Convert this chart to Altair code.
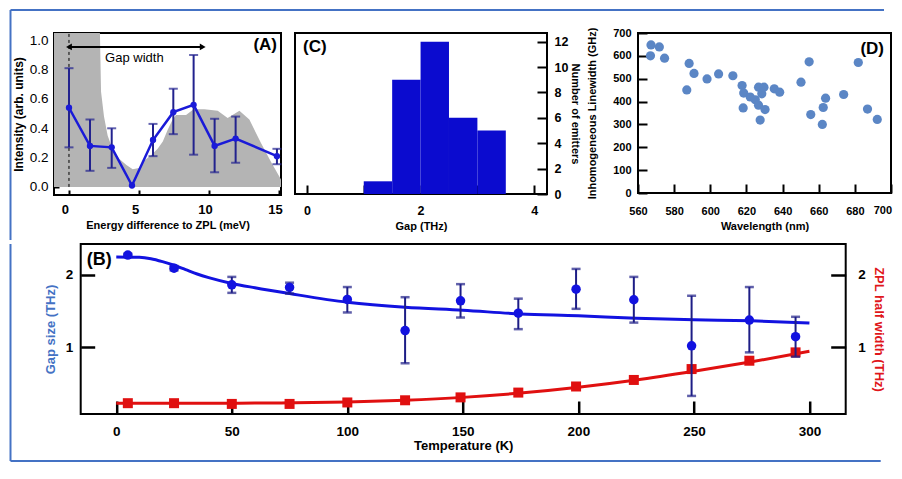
import altair as alt
import pandas as pd

FONT = "Liberation Sans"

# ---------------- Panel A data ----------------
a_energy = [0.0, 1.5, 3.05, 4.5, 6.0, 7.45, 8.9, 10.4, 11.9, 14.85]
a_int = [0.54, 0.28, 0.27, 0.01, 0.32, 0.51, 0.56, 0.28, 0.33, 0.21]
a_lo = [0.27, 0.11, 0.13, None, 0.21, 0.36, 0.22, 0.10, 0.165, 0.155]
a_hi = [0.81, 0.46, 0.40, None, 0.43, 0.67, 0.90, 0.465, 0.48, 0.26]
gray_e = [-1.07, 2.21, 2.29, 2.5, 2.76, 3.1, 3.6, 4.1, 4.55, 5.0, 5.38, 5.9, 6.33,
          6.7, 7.05, 7.35, 7.64, 8.36, 8.9, 9.67, 10.62, 11.33, 12.17, 12.88,
          13.71, 14.43, 15.14]
gray_i = [1.05, 1.05, 0.65, 0.48, 0.35, 0.26, 0.19, 0.15, 0.12, 0.13, 0.18, 0.22,
          0.26, 0.31, 0.39, 0.45, 0.49, 0.49, 0.53, 0.53, 0.52, 0.47, 0.52, 0.46,
          0.30, 0.17, 0.05]
gap_arrow = [0.0, 9.55]
gap_arrow_y = 0.955
zpl_line_y = [0.0, 1.05]
gap_text_pos = [4.67, 0.88]

# ---------------- Panel C data ----------------
c_lo = [1.0, 1.5, 2.0, 2.5, 3.0]
c_hi = [1.5, 2.0, 2.5, 3.0, 3.5]
c_count = [1, 9, 12, 6, 5]

# ---------------- Panel D data ----------------
d_wl = [567.2, 571.8, 566.9, 574.7, 588.3, 591.0, 587.0, 598.2, 604.6, 612.5, 617.6,
        618.5, 618.2, 622.1, 624.9, 626.7, 626.7, 628.5, 629.7, 627.6, 630.3, 635.4,
        638.4, 650.2, 654.7, 655.6, 662.5, 662.0, 663.8, 673.8, 681.9, 687.0, 692.4]
d_lw = [648, 639, 600, 590, 567, 523, 451, 499, 521, 513, 470, 437, 372, 420, 408,
        463, 384, 434, 463, 319, 365, 456, 441, 485, 574, 343, 374, 300, 415, 431,
        571, 367, 322]
d_ticks = list(range(560, 701, 20))

# ---------------- Panel B data ----------------
b_T = [5, 25, 50, 75, 100, 125, 149, 174, 199, 224, 249, 274, 294]
b_gap = [2.27, 2.09, 1.86, 1.825, 1.66, 1.23, 1.64, 1.47, 1.80, 1.655, 1.02, 1.375, 1.146]
b_gap_lo = [2.25, 2.06, 1.75, 1.74, 1.48, 0.78, 1.41, 1.25, 1.53, 1.34, 0.33, 0.93, 0.87]
b_gap_hi = [2.29, 2.12, 1.97, 1.89, 1.83, 1.69, 1.87, 1.67, 2.08, 1.97, 1.71, 1.83, 1.42]
b_zpl = [0.23, 0.23, 0.22, 0.22, 0.24, 0.27, 0.31, 0.376, 0.46, 0.55, 0.70, 0.815, 0.93]
fit_T = [0, 10, 15, 20, 25, 30, 35, 40, 50, 60, 75, 100, 125, 150, 175, 200, 225, 250, 275, 300]
fit_gap = [2.245, 2.24, 2.22, 2.18, 2.13, 2.07, 2.01, 1.96, 1.88, 1.82, 1.74, 1.62, 1.55,
           1.51, 1.46, 1.435, 1.40, 1.38, 1.365, 1.335]
fit_zpl = [0.23, 0.23, 0.23, 0.23, 0.23, 0.23, 0.23, 0.23, 0.23, 0.232, 0.235, 0.245, 0.27,
           0.31, 0.37, 0.45, 0.55, 0.67, 0.80, 0.945]


def axis(**kw):
    base = dict(grid=False, domain=False, labelFont=FONT, titleFont=FONT,
                labelColor="black", titleColor="black", tickColor="black",
                labelFlush=False, labelOverlap=False, labelBound=False,
                titleFontWeight="bold")
    base.update(kw)
    return alt.Axis(**base)


one = pd.DataFrame({"k": [0]})
BORDER = "#4472c4"
BW = 2  # border stroke width

# ================= Panel A =================
xs_a = alt.Scale(domain=[-1.07, 15.14], nice=False, zero=False)
ys_a = alt.Scale(domain=[-0.055, 1.05], nice=False, zero=False)
ax_xa = axis(values=[0, 5, 10, 15], format="d", tickSize=5, offset=-5, tickWidth=2,
             labelFontSize=13, labelFontWeight="bold", labelPadding=8, labelOffset=-4,
             title="Energy difference to ZPL (meV)", titleFontSize=11, titlePadding=3)
ax_ya = axis(values=[0, 0.2, 0.4, 0.6, 0.8, 1.0], format=".1f", tickSize=5, offset=-5,
             tickWidth=2, labelFontSize=13.5, labelFontWeight="normal", labelPadding=6,
             title="Intensity (arb. units)", titleFontSize=12, titlePadding=4)

XA = lambda f: alt.X(f, scale=xs_a, axis=ax_xa)
YA = lambda f: alt.Y(f, scale=ys_a, axis=ax_ya)

gray_df = pd.DataFrame({"e": gray_e, "i": gray_i, "z": [0.0] * len(gray_e)})
a_df = pd.DataFrame({"e": a_energy, "i": a_int, "lo": a_lo, "hi": a_hi})
a_err = a_df.dropna()
dash_df = pd.DataFrame({"e": [gap_arrow[0]], "y1": [zpl_line_y[0]], "y2": [zpl_line_y[1]]})
arrow_df = pd.DataFrame({"e": gap_arrow, "i": [gap_arrow_y] * 2,
                         "s": ["triangle-left", "triangle-right"]})
arrow_line_df = pd.DataFrame({"e1": [gap_arrow[0]], "e2": [gap_arrow[1]], "i": [gap_arrow_y]})
text_df = pd.DataFrame({"e": [gap_text_pos[0]], "i": [gap_text_pos[1]], "t": ["Gap width"]})

area_a = alt.Chart(gray_df).mark_area(color="#b4b4b4", clip=True).encode(
    x=XA("e:Q"), y=YA("i:Q"), y2="z:Q")
dash_a = alt.Chart(dash_df).mark_rule(color="black", strokeWidth=1, strokeDash=[3, 3]).encode(
    x=XA("e:Q"), y=YA("y1:Q"), y2="y2:Q")
arrow_line = alt.Chart(arrow_line_df).mark_rule(color="black", strokeWidth=2).encode(
    x=XA("e1:Q"), x2="e2:Q", y=YA("i:Q"))
arrow_heads = alt.Chart(arrow_df).mark_point(filled=True, color="black", size=45, opacity=1).encode(
    x=XA("e:Q"), y=YA("i:Q"), shape=alt.Shape("s:N", scale=None))
gap_text = alt.Chart(text_df).mark_text(font=FONT, fontSize=13, color="black").encode(
    x=XA("e:Q"), y=YA("i:Q"), text="t:N")
err_a = alt.Chart(a_err).mark_rule(color="#22228e", strokeWidth=2).encode(
    x=XA("e:Q"), y=YA("lo:Q"), y2="hi:Q")
err_a_lo = alt.Chart(a_err).mark_tick(color="#22228e", orient="horizontal", size=9, thickness=2).encode(
    x=XA("e:Q"), y=YA("lo:Q"))
err_a_hi = alt.Chart(a_err).mark_tick(color="#22228e", orient="horizontal", size=9, thickness=2).encode(
    x=XA("e:Q"), y=YA("hi:Q"))
line_a = alt.Chart(a_df).mark_line(color="#1a1ad8", strokeWidth=2.5).encode(
    x=XA("e:Q"), y=YA("i:Q"))
pts_a = alt.Chart(a_df).mark_circle(color="#1a1ad8", size=40, opacity=1).encode(
    x=XA("e:Q"), y=YA("i:Q"))
lab_a = alt.Chart(one).mark_text(text="(A)", font=FONT, fontSize=17, fontWeight="bold",
                                 align="right", baseline="middle", color="black").encode(
    x=alt.value(223), y=alt.value(12))

# figure frame (upper part), in pixels relative to panel A
border_left_top = alt.Chart(one).mark_rule(color=BORDER, strokeWidth=BW).encode(
    x=alt.value(-43.5), y=alt.value(-23), y2=alt.value(207))
border_top = alt.Chart(one).mark_rule(color=BORDER, strokeWidth=BW).encode(
    x=alt.value(-43.5), x2=alt.value(830), y=alt.value(-23))

panel_a = alt.layer(area_a, dash_a, arrow_line, arrow_heads, gap_text, err_a, err_a_lo,
                    err_a_hi, line_a, pts_a, lab_a, border_left_top,
                    border_top).properties(width=227, height=162)

# ================= Panel C =================
c_df = pd.DataFrame({"lo": c_lo, "hi": c_hi, "n": c_count, "z": [0] * len(c_lo)})
ax_xc = axis(values=[0, 1, 2, 3, 4], format="d", tickSize=9, offset=-9, tickWidth=2,
             labelExpr="datum.value % 2 === 0 ? datum.label : ''",
             labelFontSize=12.5, labelFontWeight="bold", labelPadding=10,
             title="Gap (THz)", titleFontSize=11, titlePadding=4)
ax_yc = axis(orient="right", values=[0, 2, 4, 6, 8, 10, 12], format="d", tickSize=10,
             offset=-10, tickWidth=2, labelFontSize=12.5, labelFontWeight="bold",
             labelPadding=7, title="Number of emitters", titleFontSize=11, titlePadding=2)
bars_c = alt.Chart(c_df).mark_rect(color="#0b0bcf").encode(
    x=alt.X("lo:Q", scale=alt.Scale(domain=[-0.21, 4.225], nice=False, zero=False), axis=ax_xc),
    x2="hi:Q",
    y=alt.Y("n:Q", scale=alt.Scale(domain=[0, 12.68], nice=False), axis=ax_yc),
    y2="z:Q")
lab_c = alt.Chart(one).mark_text(text="(C)", font=FONT, fontSize=17, fontWeight="bold",
                                 align="left", baseline="middle", color="black").encode(
    x=alt.value(8), y=alt.value(14))
panel_c = alt.layer(bars_c, lab_c).properties(width=252, height=161)

# ================= Panel D =================
D_W, D_H = 253, 160
d_df = pd.DataFrame({"wl": d_wl, "lw": d_lw})
ax_xd = axis(values=d_ticks, format="d", tickSize=9, offset=-9, tickWidth=2,
             labelExpr="datum.value >= 700 ? '' : datum.label",
             labelFontSize=11, labelFontWeight="bold", labelPadding=12,
             title="Wavelength (nm)", titleFontSize=11, titlePadding=4)
ax_yd = axis(values=list(range(0, 701, 100)), format="d", tickSize=9, offset=-9, tickWidth=2,
             labelFontSize=11, labelFontWeight="bold", labelPadding=7,
             title="Inhomogeneous Linewidth (GHz)", titleFontSize=11, titlePadding=15)
pts_d = alt.Chart(d_df).mark_circle(color="#5b86c5", size=85, opacity=1).encode(
    x=alt.X("wl:Q", scale=alt.Scale(domain=[560, 700], nice=False, zero=False), axis=ax_xd),
    y=alt.Y("lw:Q", scale=alt.Scale(domain=[0, 700], nice=False), axis=ax_yd))
# last tick label kept inside the page edge
last_lab_d = alt.Chart(one).mark_text(text=str(d_ticks[-1]), font=FONT, fontSize=11,
                                      fontWeight="bold", align="right", baseline="top",
                                      color="black").encode(
    x=alt.value(D_W + 1), y=alt.value(D_H + 12))
lab_d = alt.Chart(one).mark_text(text="(D)", font=FONT, fontSize=17, fontWeight="bold",
                                 align="right", baseline="middle", color="black").encode(
    x=alt.value(246), y=alt.value(16))
panel_d = alt.layer(pts_d, last_lab_d, lab_d).properties(width=D_W, height=D_H)

# ================= Panel B =================
xs_b = alt.Scale(domain=[-15.4, 315.7], nice=False, zero=False)
ys_b = alt.Scale(domain=[0.081, 2.423], nice=False, zero=False)
ax_xb = axis(values=[0, 50, 100, 150, 200, 250, 300], format="d", tickSize=13, offset=-13,
             tickWidth=2.5, labelFontSize=13.5, labelFontWeight="bold", labelPadding=10,
             title="Temperature (K)", titleFontSize=13, titlePadding=2)
ax_yb_left = axis(orient="left", values=[1, 2], format="d", tickSize=14, offset=-14,
                  tickWidth=2.5, labelFontSize=13.5, labelFontWeight="bold", labelPadding=8,
                  title="Gap size (THz)", titleFontSize=13, titleColor="#4472c4", titlePadding=8)
ax_yb_right = axis(orient="right", values=[1, 2], format="d", tickSize=15, offset=-15,
                   tickWidth=2.5, labelFontSize=13.5, labelFontWeight="bold", labelPadding=12,
                   title="ZPL half width (THz)", titleFontSize=13, titleColor="#e0161b",
                   titlePadding=6)

XB = lambda f: alt.X(f, scale=xs_b, axis=ax_xb)
YBL = lambda f: alt.Y(f, scale=ys_b, axis=ax_yb_left)
YBR = lambda f: alt.Y(f, scale=ys_b, axis=ax_yb_right)

b_df = pd.DataFrame({"T": b_T, "gap": b_gap, "lo": b_gap_lo, "hi": b_gap_hi, "zpl": b_zpl})
fit_df = pd.DataFrame({"T": fit_T, "gap": fit_gap, "zpl": fit_zpl})

red_fit = alt.Chart(fit_df).mark_line(color="#e01010", strokeWidth=3, interpolate="monotone").encode(
    x=XB("T:Q"), y=YBR("zpl:Q"))
red_pts = alt.Chart(b_df).mark_point(shape="square", filled=True, color="#e01010", size=100,
                                     opacity=1).encode(x=XB("T:Q"), y=YBR("zpl:Q"))
red_layer = alt.layer(red_fit, red_pts)

blue_fit = alt.Chart(fit_df).mark_line(color="#1212e0", strokeWidth=3, interpolate="monotone").encode(
    x=XB("T:Q"), y=YBL("gap:Q"))
ERR = "#1d1d86"
blue_err = alt.Chart(b_df).mark_rule(color=ERR, strokeWidth=2).encode(
    x=XB("T:Q"), y=YBL("lo:Q"), y2="hi:Q")
blue_err_lo = alt.Chart(b_df).mark_tick(color=ERR, orient="horizontal", size=9, thickness=2.5).encode(
    x=XB("T:Q"), y=YBL("lo:Q"))
blue_err_hi = alt.Chart(b_df).mark_tick(color=ERR, orient="horizontal", size=9, thickness=2.5).encode(
    x=XB("T:Q"), y=YBL("hi:Q"))
blue_pts = alt.Chart(b_df).mark_circle(color="#1212e0", size=90, opacity=1).encode(
    x=XB("T:Q"), y=YBL("gap:Q"))
lab_b = alt.Chart(one).mark_text(text="(B)", font=FONT, fontSize=18, fontWeight="bold",
                                 align="left", baseline="middle", color="black").encode(
    x=alt.value(6), y=alt.value(16))

# figure frame (lower part), in pixels relative to panel B
border_left_bot = alt.Chart(one).mark_rule(color=BORDER, strokeWidth=BW).encode(
    x=alt.value(-70.2), y=alt.value(0), y2=alt.value(217))
border_bottom = alt.Chart(one).mark_rule(color=BORDER, strokeWidth=BW).encode(
    x=alt.value(-70.2), x2=alt.value(800), y=alt.value(217))

blue_layer = alt.layer(blue_fit, blue_err, blue_err_lo, blue_err_hi, blue_pts, lab_b,
                       border_left_bot, border_bottom)

panel_b = alt.layer(red_layer, blue_layer).resolve_scale(y="independent").properties(
    width=765, height=170)

spacer = alt.Chart(one).mark_point(opacity=0, size=1).encode(
    x=alt.value(0), y=alt.value(100)).properties(
    width=1, height=170, view=alt.ViewBackground(stroke="transparent", strokeOpacity=0))

row1 = alt.hconcat(panel_a, alt.hconcat(panel_c, panel_d, spacing=91, bounds="flush"),
                   spacing=14, bounds="flush")
row2 = alt.hconcat(spacer, panel_b, spacing=25.7, bounds="flush")

chart = alt.vconcat(row1, row2, spacing=0).properties(
    padding=0, background="white"
).configure_view(stroke="black", strokeWidth=2)

chart.save("out.html", embed_options={"renderer": "svg", "actions": False})
